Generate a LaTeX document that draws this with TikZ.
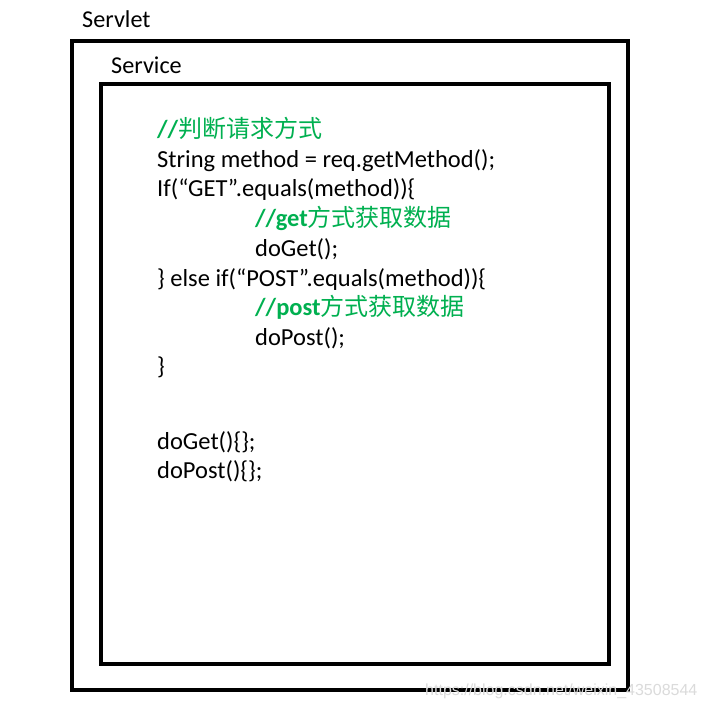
\documentclass[tikz,border=0pt]{standalone}
\usepackage{fontspec}
\setmainfont{Carlito}
\newfontfamily\cjk{Noto Sans CJK SC}
\newfontfamily\wmfont{Liberation Sans}
\definecolor{cgreen}{RGB}{0,176,80}
\begin{document}
\begin{tikzpicture}[x=1pt,y=-1pt,
  frame/.style={draw=black,line width=4pt},
  code/.style={anchor=base west,inner sep=0pt,font=\fontsize{24.5}{28}\selectfont},
  cmt/.style={code,text=cgreen},
  title/.style={anchor=base west,inner sep=0pt,font=\fontsize{24.2}{28}\selectfont},
  wm/.style={anchor=base west,inner sep=0pt,text=black!14,font=\wmfont\fontsize{16}{19}\selectfont}]
\useasboundingbox (0,0) rectangle (707,708);
\fill[white] (0,0) rectangle (707,708);
\draw[frame] (72,41) rectangle (628,690);
\draw[frame] (101,84) rectangle (609,664);
\node[title] (servlet) at (82,28) {Servlet};
\node[title] (service) at (111,74) {Service};
\node[cmt] (c1) at (157,138) {\textbf{//}{\cjk\fontsize{24}{28}\selectfont 判断请求方式}};
\node[code] (l2) at (157,168) {String method = req.getMethod();};
\node[code] (l3) at (157,197) {If(“GET”.equals(method))\{};
\node[cmt] (c4) at (255,227) {\textbf{//get}{\cjk\fontsize{24}{28}\selectfont 方式获取数据}};
\node[code] (l5) at (255,256) {doGet();};
\node[code] (l6) at (157,286) {\} else if(“POST”.equals(method))\{};
\node[cmt] (c7) at (255,315) {\textbf{//post}{\cjk\fontsize{24}{28}\selectfont 方式获取数据}};
\node[code] (l8) at (255,345) {doPost();};
\node[code] (l9) at (157,374) {\}};
\node[code] (l10) at (157,449) {doGet()\{\};};
\node[code] (l11) at (157,478) {doPost()\{\};};
\node[wm] (wm) at (425,695) {https://blog.csdn.net/weixin\_43508544};
\end{tikzpicture}
\end{document}
